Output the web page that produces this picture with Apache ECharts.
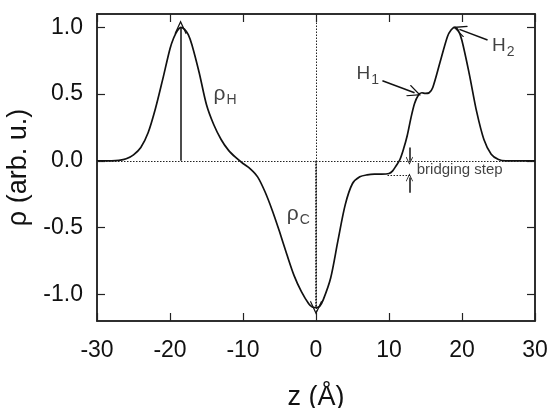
<!DOCTYPE html>
<html>
<head>
<meta charset="utf-8">
<script src="https://cdn.jsdelivr.net/npm/echarts@6/dist/echarts.min.js"></script>
<style>
  html, body { margin: 0; padding: 0; background: #fff; }
  #chart { width: 548px; height: 408px; }
</style>
</head>
<body>
<div id="chart"></div>
<script>
// density profile
const zVals = [-30, -28, -27, -26, -25, -24, -23, -22, -21, -20, -19.5, -19, -18.5, -18, -17.5, -17, -16, -15, -14, -13, -12, -11,
  -10, -9, -8, -7, -6, -5, -4, -3, -2, -1, -0.5, 0, 0.5, 1, 2, 3, 4, 5, 6, 7, 8, 9, 10, 10.5, 11, 11.5, 12, 12.5,
  13, 13.5, 14, 14.5, 15, 15.5, 16, 17, 18, 18.5, 19, 19.5, 20, 21, 22, 23, 24, 25, 26, 27, 28, 30]
const rhoVals = [0, 0, 0.003, 0.015, 0.045, 0.1, 0.21, 0.39, 0.61, 0.84, 0.92, 0.975, 1.0, 0.985, 0.945, 0.87, 0.66, 0.42, 0.27, 0.16, 0.08, 0.025,
  -0.02, -0.06, -0.12, -0.23, -0.37, -0.53, -0.7, -0.86, -0.98, -1.07, -1.095, -1.1, -1.09, -1.04, -0.88, -0.6, -0.33, -0.17, -0.12, -0.105, -0.1, -0.1, -0.095, -0.075, -0.035, 0.01, 0.09, 0.19,
  0.32, 0.43, 0.49, 0.51, 0.505, 0.51, 0.55, 0.74, 0.93, 0.98, 1.0, 0.975, 0.9, 0.65, 0.37, 0.16, 0.05, 0.01, 0, 0, 0, 0]
const xTicks = [-30, -20, -10, 0, 10, 20, 30]
const yTicks = [-1.0, -0.5, 0, 0.5, 1.0]
// text labels: [z, rho, text]
const labelItems = [
  [-14.05, 0.5, '{m|ρ}{s|H}'],
  [-4.0, -0.4, '{m|ρ}{s|C}'],
  [5.55, 0.65, '{h|H}{s|1}'],
  [24.1, 0.86, '{h|H}{s|2}'],
  [13.8, -0.07, '{b|bridging step}']
]

const arrowHead = 'path://M0,0 L10,13 L8.6,14 L0,3 L-8.6,14 L-10,13 Z'
const axisCol = '#222'
const font = 'Liberation Sans, Arial, sans-serif'

const chart = echarts.init(document.getElementById('chart'))

const mkAxisX = (pos, labels) => ({
  type: 'value',
  gridIndex: 0,
  position: pos,
  min: -30,
  max: 30,
  interval: 10,
  name: labels ? 'z (Å)' : null,
  nameLocation: 'middle',
  nameGap: 63,
  nameTextStyle: {color: '#111', fontSize: 27, fontFamily: font},
  axisLine: {show: true, onZero: false, lineStyle: {color: axisCol, width: 1.5}},
  axisTick: {show: true, inside: true, length: 8, customValues: xTicks, lineStyle: {color: axisCol, width: 1.2}},
  axisLabel: {show: labels, margin: 18, color: '#111', fontSize: 23, fontFamily: font, customValues: xTicks},
  splitLine: {show: false}
})
const mkAxisY = (pos, labels) => ({
  type: 'value',
  gridIndex: 0,
  position: pos,
  min: -1.2,
  max: 1.1,
  name: labels ? 'ρ (arb. u.)' : null,
  nameLocation: 'middle',
  nameGap: 58,
  nameTextStyle: {color: '#111', fontSize: 27, fontFamily: font},
  axisLine: {show: true, onZero: false, lineStyle: {color: axisCol, width: 1.5}},
  axisTick: {show: true, inside: true, length: 8, customValues: yTicks, lineStyle: {color: axisCol, width: 1.2}},
  axisLabel: {show: labels, margin: 14, color: '#111', fontSize: 23, fontFamily: font,
    customValues: yTicks, formatter: v => v.toFixed(1)},
  splitLine: {show: false}
})

const option = {
  animation: false,
  backgroundColor: '#fff',
  grid: {left: 97, right: 13, top: 14, bottom: 87, outerBoundsMode: 'none', containLabel: false,
    show: true, borderColor: axisCol, borderWidth: 1.5, backgroundColor: 'transparent'},
  xAxis: [mkAxisX('bottom', true), mkAxisX('top', false)],
  yAxis: [mkAxisY('left', true), mkAxisY('right', false)],
  series: [
    {
      // keeps the mirrored top/right axes in use
      type: 'line',
      xAxisIndex: 1,
      yAxisIndex: 1,
      data: [[0, 0]],
      showSymbol: false,
      silent: true,
      lineStyle: {opacity: 0}
    },
    {
      // dotted reference lines
      type: 'line',
      data: [],
      silent: true,
      markLine: {
        symbol: 'none',
        label: {show: false},
        lineStyle: {color: '#222', type: [1.5, 1.5], width: 1},
        data: [
          {yAxis: 0},
          {xAxis: 0},
          [{coord: [9.8, -0.108]}, {coord: [13.05, -0.108]}]
        ]
      }
    },
    {
      type: 'line',
      name: 'rho',
      data: zVals.map((z, i) => [z, rhoVals[i]]),
      smooth: 0.3,
      showSymbol: false,
      lineStyle: {color: '#111', width: 1.7},
      z: 3
    },
    {
      // arrows
      type: 'line',
      data: [],
      silent: true,
      z: 4,
      markLine: {
        symbol: ['none', arrowHead],
        symbolSize: [12, 14],
        label: {show: false},
        lineStyle: {color: '#111', type: 'solid', width: 1.5},
        data: [
          [{coord: [-18.55, 0]}, {coord: [-18.55, 1.0]}],
          [{coord: [0, 0], lineStyle: {type: [2, 1]}}, {coord: [0, -1.1]}],
          [{coord: [9.1, 0.6]}, {coord: [13.5, 0.51]}],
          [{coord: [23.5, 0.905]}, {coord: [19.65, 0.985]}],
          [{coord: [12.8, 0.1], symbolSize: [7, 8]}, {coord: [12.8, 0.0], symbolSize: [7, 8]}],
          [{coord: [12.8, -0.24], symbolSize: [7, 8]}, {coord: [12.8, -0.125], symbolSize: [7, 8]}]
        ]
      }
    },
    {
      type: 'scatter',
      data: labelItems,
      symbolSize: 0,
      silent: true,
      label: {
        show: true,
        position: 'right',
        distance: 0,
        color: '#111',
        fontFamily: font,
        formatter: p => p.data[2],
        rich: {
          m: {fontSize: 21, fontFamily: font, color: '#111'},
          h: {fontSize: 19, fontFamily: font, color: '#111'},
          s: {fontSize: 14, fontFamily: font, color: '#111', padding: [12, 0, 0, 1]},
          b: {fontSize: 15, fontFamily: font, color: '#111'}
        }
      }
    }
  ]
}
chart.setOption(option)
</script>
</body>
</html>
